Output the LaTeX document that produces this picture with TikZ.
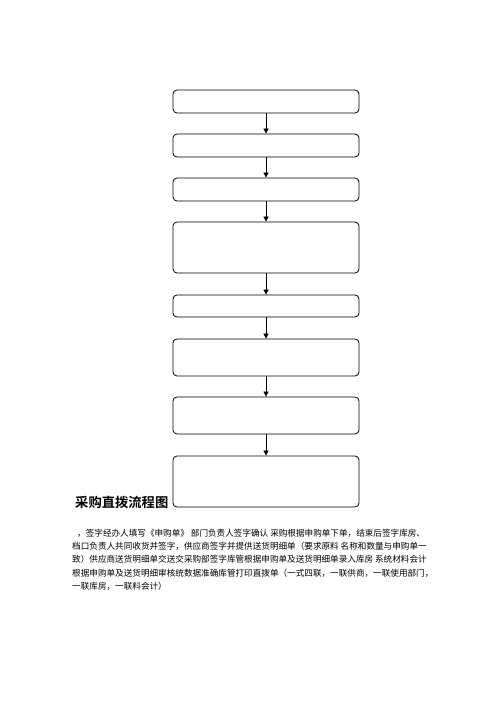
\documentclass[tikz,border=0pt]{standalone}
\usepackage{fontspec}
\newfontfamily\cjk{Noto Sans CJK SC}[BoldFont={Noto Sans CJK SC Bold}]
\usetikzlibrary{arrows.meta}
\tikzset{
  box/.style={draw, line width=0.8pt, rounded corners=4pt, minimum width=186pt, inner sep=0pt},
  arrow/.style={line width=0.8pt, -{Triangle[length=5pt,width=5pt]}},
  line/.style={anchor=west, inner sep=0pt, font=\cjk\fontsize{8.6pt}{10pt}\selectfont}
}
\begin{document}
\begin{tikzpicture}[x=1pt,y=1pt]
    \useasboundingbox (0,0) rectangle (496,702);
    % boxes
    \node[box, minimum height=23pt] (b1) at (266,600.5) {};
    \node[box, minimum height=23pt] (b2) at (266,556.5) {};
    \node[box, minimum height=23pt] (b3) at (266,512.5) {};
    \node[box, minimum height=51pt] (b4) at (266,454.5) {};
    \node[box, minimum height=22pt] (b5) at (266,396) {};
    \node[box, minimum height=37pt] (b6) at (266,344.5) {};
    \node[box, minimum height=37pt] (b7) at (266,286.5) {};
    \node[box, minimum height=51pt] (b8) at (266,220.5) {};
    \draw[arrow] (b1) -- (b2);
    \draw[arrow] (b2) -- (b3);
    \draw[arrow] (b3) -- (b4);
    \draw[arrow] (b4) -- (b5);
    \draw[arrow] (b5) -- (b6);
    \draw[arrow] (b6) -- (b7);
    \draw[arrow] (b7) -- (b8);
    % title and notes
    \node[anchor=west, inner sep=0pt, font=\cjk\bfseries\fontsize{13.3pt}{15pt}\selectfont] (title) at (75,200) {采购直拨流程图};
    \node[line] (l1) at (77,169) {，签字经办人填写《申购单》 部门负责人签字确认 采购根据申购单下单，结束后签字库房、};
    \node[line] (l2) at (72,156) {档口负责人共同收货并签字，供应商签字并提供送货明细单（要求原料 名称和数量与申购单一};
    \node[line] (l3) at (72,142.5) {致）供应商送货明细单交送交采购部签字库管根据申购单及送货明细单录入库房 系统材料会计};
    \node[line] (l4) at (72,129) {根据申购单及送货明细审核统数据准确库管打印直拨单（一式四联，一联供商，一联使用部门，};
    \node[line] (l5) at (72,116) {一联库房，一联料会计）};
\end{tikzpicture}
\end{document}
